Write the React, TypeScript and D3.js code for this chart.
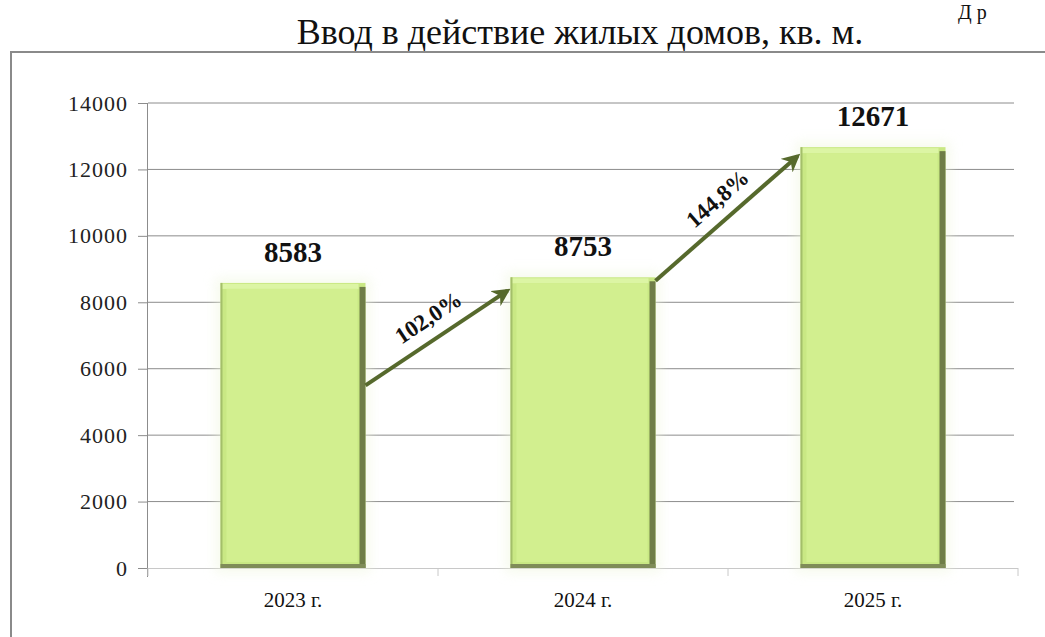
import { useEffect, useRef } from "react";
import * as d3 from "d3";

const categories = ["2023 г.", "2024 г.", "2025 г."];
const values = [8583, 8753, 12671];
const yTicks = [0, 2000, 4000, 6000, 8000, 10000, 12000, 14000];
// growth arrows: from bar i to bar i+1, start/end heights in data units
const growthLabels = ["102,0%", "144,8%"];
const arrowFrom = [5500, 8650];
const arrowTo = [8350, 12400];

const serif = "Liberation Serif";

export default function App() {
    const ref = useRef<SVGSVGElement>(null);

    useEffect(() => {
        const svg = d3.select(ref.current);
        svg.selectAll("*").remove();

        const left = 148, right = 1018, top = 103, bottom = 568;

        const x = d3.scaleBand<string>()
            .domain(categories)
            .range([left, right])
            .paddingInner(0.5)
            .paddingOuter(0.25);

        const y = d3.scaleLinear()
            .domain([0, 14000])
            .range([bottom, top]);

        const defs = svg.append("defs");
        defs.append("marker")
            .attr("id", "arrowhead")
            .attr("viewBox", "0 0 10 10")
            .attr("refX", 8)
            .attr("refY", 5)
            .attr("markerWidth", 4.5)
            .attr("markerHeight", 4.5)
            .attr("orient", "auto")
            .append("path")
            .attr("d", "M0,0 L10,5 L0,10 L3,5 Z")
            .attr("fill", "#56692c");

        const glow = defs.append("filter").attr("id", "glow")
            .attr("x", "-20%").attr("y", "-20%").attr("width", "140%").attr("height", "140%");
        glow.append("feGaussianBlur").attr("stdDeviation", 6);

        // top-right heading fragment
        svg.append("text")
            .attr("x", 958)
            .attr("y", 19)
            .attr("font-family", serif)
            .attr("font-size", 20)
            .attr("fill", "#111")
            .text("Д  р");

        svg.append("text")
            .attr("x", 580)
            .attr("y", 44)
            .attr("text-anchor", "middle")
            .attr("font-family", serif)
            .attr("font-size", 36)
            .attr("fill", "#111")
            .text("Ввод в действие жилых домов, кв. м.");

        // frame
        svg.append("rect")
            .attr("x", 11)
            .attr("y", 52)
            .attr("width", 1060)
            .attr("height", 620)
            .attr("fill", "none")
            .attr("stroke", "#8a8a8a")
            .attr("stroke-width", 2);

        // grid
        svg.append("g")
            .selectAll("line")
            .data(yTicks.filter((d) => d > 0))
            .join("line")
            .attr("x1", left)
            .attr("x2", right - 4)
            .attr("y1", (d) => y(d))
            .attr("y2", (d) => y(d))
            .attr("stroke", "#8c8c8c")
            .attr("stroke-width", 1);

        // y axis
        const yAxis = svg.append("g")
            .attr("transform", `translate(${left},0)`)
            .call(d3.axisLeft(y).tickValues(yTicks).tickSize(10).tickPadding(10).tickFormat(d3.format("d")));
        yAxis.select(".domain").attr("stroke", "#8c8c8c").attr("d", `M-0.5,${top}V${bottom + 9}`);
        yAxis.selectAll(".tick line").attr("stroke", "#8c8c8c");
        yAxis.selectAll(".tick text")
            .attr("font-family", serif)
            .attr("font-size", 22)
            .attr("letter-spacing", 1)
            .attr("fill", "#222");

        // x axis
        const step = x.step();
        const xAxis = svg.append("g");
        xAxis.append("line")
            .attr("x1", left)
            .attr("x2", right)
            .attr("y1", bottom + 0.5)
            .attr("y2", bottom + 0.5)
            .attr("stroke", "#c8c8c8");
        xAxis.selectAll("line.tk")
            .data(d3.range(categories.length + 1))
            .join("line")
            .attr("class", "tk")
            .attr("x1", (i) => left + i * step)
            .attr("x2", (i) => left + i * step)
            .attr("y1", bottom)
            .attr("y2", bottom + 8)
            .attr("stroke", "#c8c8c8");
        xAxis.selectAll("text")
            .data(categories)
            .join("text")
            .attr("x", (d) => (x(d) as number) + x.bandwidth() / 2)
            .attr("y", 607)
            .attr("text-anchor", "middle")
            .attr("font-family", serif)
            .attr("font-size", 21)
            .attr("fill", "#111")
            .text((d) => d);

        // bars
        const bars = svg.append("g")
            .selectAll("g")
            .data(values)
            .join("g")
            .attr("transform", (d, i) => `translate(${x(categories[i])},${y(d)})`);
        const bw = x.bandwidth();

        bars.append("rect")
            .attr("x", -5)
            .attr("y", -5)
            .attr("width", bw + 10)
            .attr("height", (d) => bottom - y(d) + 10)
            .attr("fill", "#eef6dc")
            .attr("opacity", 0.5)
            .attr("filter", "url(#glow)");
        bars.append("rect")
            .attr("width", bw)
            .attr("height", (d) => bottom - y(d))
            .attr("fill", "#c9e884");
        bars.append("rect")
            .attr("x", 1)
            .attr("y", 1)
            .attr("width", bw - 8)
            .attr("height", 5)
            .attr("fill", "#dcf5a4");
        bars.append("rect")
            .attr("x", 0)
            .attr("y", 0)
            .attr("width", 2)
            .attr("height", (d) => bottom - y(d))
            .attr("fill", "#a4bf6a");
        bars.append("rect")
            .attr("x", 6)
            .attr("y", 6)
            .attr("width", bw - 14)
            .attr("height", (d) => bottom - y(d) - 12)
            .attr("fill", "#d2ef8f");
        bars.append("rect")
            .attr("x", bw - 6)
            .attr("y", 4)
            .attr("width", 6)
            .attr("height", (d) => bottom - y(d) - 4)
            .attr("fill", "#6f7d47");
        bars.append("rect")
            .attr("x", 0)
            .attr("y", (d) => bottom - y(d) - 4)
            .attr("width", bw)
            .attr("height", 4)
            .attr("fill", "#7f8c58");

        // value labels
        svg.append("g")
            .selectAll("text")
            .data(values)
            .join("text")
            .attr("x", (d, i) => (x(categories[i]) as number) + bw / 2)
            .attr("y", (d) => y(d) - 21)
            .attr("text-anchor", "middle")
            .attr("font-family", serif)
            .attr("font-weight", "bold")
            .attr("font-size", 29)
            .attr("fill", "#111")
            .text((d) => String(d));

        // growth arrows
        const arrows = svg.append("g")
            .selectAll("g")
            .data(growthLabels)
            .join("g");
        arrows.each(function (label, i) {
            const g = d3.select(this);
            const x1 = (x(categories[i]) as number) + bw;
            const x2 = (x(categories[i + 1]) as number) - 3;
            const y1 = y(arrowFrom[i]);
            const y2 = y(arrowTo[i]);
            g.append("line")
                .attr("x1", x1)
                .attr("y1", y1)
                .attr("x2", x2)
                .attr("y2", y2)
                .attr("stroke", "#56692c")
                .attr("stroke-width", 4)
                .attr("marker-end", "url(#arrowhead)");
            const angle = (Math.atan2(y2 - y1, x2 - x1) * 180) / Math.PI;
            const mx = (x1 + x2) / 2 - 4;
            const my = (y1 + y2) / 2 - 14;
            g.append("text")
                .attr("transform", `translate(${mx},${my}) rotate(${angle})`)
                .attr("text-anchor", "middle")
                .attr("font-family", serif)
                .attr("font-weight", "bold")
                .attr("font-size", 23)
                .attr("fill", "#111")
                .text(label);
        });
    }, []);

    return (
        <svg
            ref={ref}
            width={1045}
            height={637}
            style={{ position: "absolute", left: 0, top: 0, background: "white" }}
        />
    );
}
